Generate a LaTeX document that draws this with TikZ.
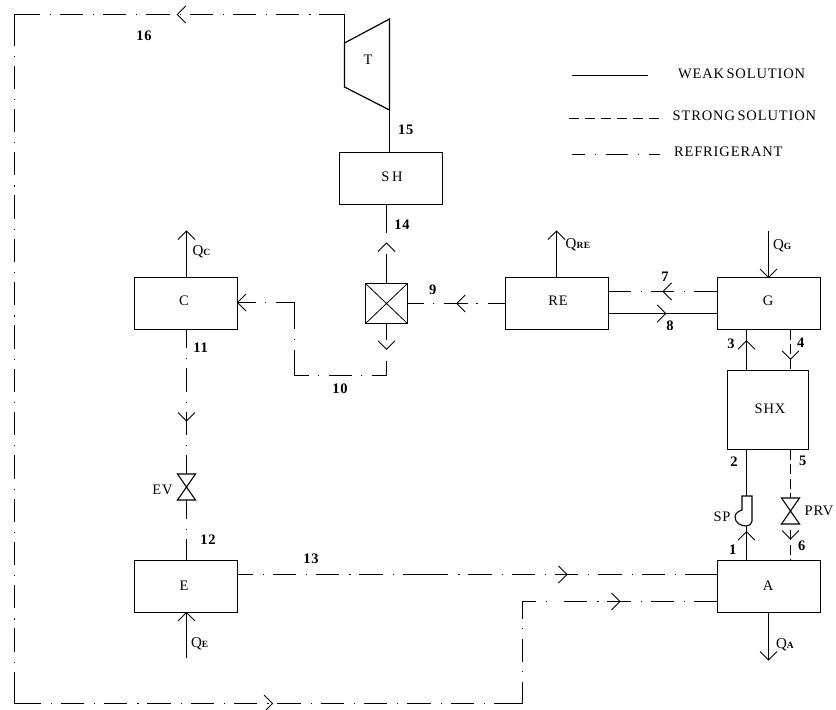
\documentclass[tikz,border=0pt]{standalone}
\usepackage{fontspec}
\setmainfont[LetterSpace=6,WordSpace=0.55]{Liberation Serif}
\newcommand{\Qsub}[1]{{\fontsize{15}{16}\selectfont Q}{\fontsize{9.5}{10}\selectfont\bfseries #1}}
\tikzset{
  every node/.style={font=\fontsize{14.5}{15}\selectfont,inner sep=0pt,outer sep=0pt},
  unitbox/.style={draw,line width=1.2pt,minimum width=103pt,minimum height=52pt,anchor=center},
  num/.style={font=\fontsize{14.5}{15}\selectfont\bfseries},
  weak/.style={line width=1.2pt},
  strong/.style={line width=1.2pt,dash pattern=on 10pt off 4.5pt},
  legstrong/.style={line width=1.2pt,dash pattern=on 10pt off 6pt},
  rf/.style={line width=1.2pt,dash pattern=on 23.3pt off 10pt on 1.2pt off 8.8pt,dash phase=#1},
  flowtip/.pic={\draw[line width=0.9pt] (-8.5,-8.5) -- (0,0) -- (-8.5,8.5);},
  valve/.pic={\draw[line width=1.1pt] (-9,-13) -- (9,-13) -- (-9,13) -- (9,13) -- cycle;}
}
\begin{document}
\begin{tikzpicture}[x=1pt,y=-1pt]
\useasboundingbox[fill=white] (0,0) rectangle (836,710);
% units
\node[unitbox] (C) at (186,303.5) {};
\node[unitbox] (E) at (186,586.5) {};
\node[unitbox] (RE) at (557,303.5) {};
\node[unitbox] (G) at (769,303.5) {};
\node[unitbox] (A) at (769,586.5) {};
\node[unitbox] (SH) at (391,178.5) {};
\node[unitbox,minimum width=81pt,minimum height=79pt] (SHX) at (768,410) {};
\node (lC) at (184,301) {C};
\node (lE) at (184,586) {E};
\node (lRE) at (558,301) {RE};
\node (lG) at (768,301) {G};
\node (lA) at (768,586) {A};
\node (lSH) at (392,177) {S H};
\node (lSHX) at (770,409) {SHX};
\node[draw,line width=1.4pt,minimum width=42pt,minimum height=40pt] (MX) at (386.5,303.5) {};
\draw[line width=0.8pt] (MX.north west) -- (MX.south east) (MX.north east) -- (MX.south west);
% turbine
\node (T) at (368,60) {T};
\coordinate (Ttl) at (344.5,43);
\coordinate (Tbl) at (344.5,87);
\coordinate (Ttr) at (389.5,19);
\coordinate (Tbr) at (389.5,110);
\draw[weak] (Ttl) -- (Ttr) -- (Tbr) -- (Tbl) -- cycle;
% coordinates
\coordinate (topL) at (14.5,14.5);
\coordinate (topR) at (344.5,14.5);
\coordinate (botL) at (14.5,703.5);
\coordinate (botR) at (522.5,703.5);
\coordinate (inA) at (522.5,601.5);
\coordinate (c10a) at (386.5,375.5);
\coordinate (c10b) at (294.5,375.5);
\coordinate (c10c) at (294.5,302.5);
\coordinate (EVt) at (186.5,474);
\coordinate (EVb) at (186.5,500);
\coordinate (PRVt) at (790.5,498);
\coordinate (PRVb) at (790.5,530);
\coordinate (SPt) at (746.5,496);
\coordinate (SPb) at (746.5,526);
% valves
\pic at (186.5,487) {valve};
\pic at (790.5,511) {valve};
\node (EV) at (162.5,490) {EV};
\node (PRV) at (819,511) {PRV};
\node (SP) at (722,517) {SP};
% pump
\draw[line width=1.1pt] (742,496) -- (752,496) -- (752,521) .. controls (752,524) and (749,526) .. (746.5,526)
  .. controls (741,526) and (735,523) .. (735,517) .. controls (735,513) and (739,511) .. (742,510) -- cycle;
% weak connectors
\draw[weak] (Tbr) -- (SH.north -| Tbr);
\draw[weak] (RE.east |- 0,313.5) -- (G.west |- 0,313.5);
\draw[weak] (A.north -| SPb) -- (SPb);
\draw[weak] (SHX.south -| SPt) -- (SPt);
\draw[weak] (SHX.north -| SPt) -- (G.south -| SPt);
% refrigerant: outer loop
\draw[rf=41.5] (topL) -- (topR);
\draw[weak] (341,14.5) -- (topR) -- (Tbl);
\draw[weak] (38,14.5) -- (topL) -- (14.5,45);
\draw[rf=35.6] (topL) -- (botL);
\draw[weak] (14.5,672) -- (botL) -- (40,703.5);
\draw[rf=40.3] (botL) -- (botR);
\draw[weak] (494,703.5) -- (botR) -- (522.5,682);
\draw[rf=2] (botR) -- (inA);
\draw[weak] (522.5,618) -- (inA) -- (535,601.5);
\draw[rf=10.3] (inA) -- (555,601.5);
\draw[rf=0] (564,601.5) -- (A.west |- inA);
% refrigerant: others
\draw[rf=8] (E.east |- 0,574.5) -- (425,574.5);
\draw[rf=0] (425,574.5) -- (A.west |- 0,574.5);
\draw[weak] (700,574.5) -- (A.west |- 0,574.5);
\draw[rf=1.2] (RE.east |- 0,291.5) -- (G.west |- 0,291.5);
\draw[rf=5.3] (RE.west |- MX.east) -- (MX.east);
\draw[weak] (MX.north) -- (386.5,254);
\draw[weak] (386.5,233) -- (SH.south -| MX.north);
\draw[weak] (MX.south) -- (386.5,340);
\draw[weak] (386.5,360.7) -- (c10a);
\draw[rf=9] (c10a) -- (c10b);
\draw[line width=1.2pt,dash pattern=on 25.7pt off 9.8pt on 1.2pt off 9.8pt on 30pt] (c10b) -- (c10c);
\draw[rf=4.7] (c10c) -- (C.east |- c10c);
\draw[rf=4.6] (C.south -| EVt) -- (EVt);
\draw[rf=4.3] (EVb) -- (E.north -| EVb);
% strong
\draw[strong] (G.south -| PRVt) -- (SHX.north -| PRVt);
\draw[strong] (SHX.south -| PRVt) -- (PRVt);
\draw[strong] (PRVb) -- (A.north -| PRVb);
% heat
\draw[weak] (C.north -| EVt) -- (186.5,231) coordinate (qc);
\draw[weak] (RE.north -| 556.5,0) -- (556.5,231) coordinate (qre);
\draw[weak] (768.5,231) coordinate (qg) -- (G.north -| 768.5,0);
\draw[weak] (186.5,658) coordinate (qe) -- (E.south -| 186.5,0);
\draw[weak] (A.south -| 768.5,0) -- (768.5,660) coordinate (qa);
% flow tips
\pic[rotate=90] at (qc) {flowtip};
\pic[rotate=90] at (qre) {flowtip};
\pic[rotate=-90] at (qg |- G.north) {flowtip};
\pic[rotate=90] at (186.5,612.5) {flowtip};
\pic[rotate=-90] at (qa) {flowtip};
\pic[rotate=180] at (177.3,14.5) {flowtip};
\pic at (272.6,703.5) {flowtip};
\pic at (567,574.5) {flowtip};
\pic at (620,601.5) {flowtip};
\pic[rotate=180] at (663,291.5) {flowtip};
\pic at (665.7,313.5) {flowtip};
\pic[rotate=180] at (456.7,303.5) {flowtip};
\pic[rotate=90] at (386.5,243) {flowtip};
\pic[rotate=-90] at (386.5,349.3) {flowtip};
\pic[rotate=180] at (237.5,302.5) {flowtip};
\pic[rotate=-90] at (186.5,421) {flowtip};
\pic[rotate=90] at (746.5,531.7) {flowtip};
\pic[rotate=90] at (746.5,340.7) {flowtip};
\pic[rotate=-90] at (790.5,359.3) {flowtip};
\pic[rotate=-90] at (790.5,539) {flowtip};
% Q labels
\node[anchor=west] (QC) at (192.5,252) {\Qsub{C}};
\node[anchor=west] (QRE) at (565.7,245) {\Qsub{RE}};
\node[anchor=west] (QG) at (773,246) {\Qsub{G}};
\node[anchor=west] (QE) at (191,644) {\Qsub{E}};
\node[anchor=west] (QA) at (776,645) {\Qsub{A}};
% numbers
\node[num] (n1) at (732.7,550) {1};
\node[num] (n2) at (734,461.7) {2};
\node[num] (n3) at (731,344) {3};
\node[num] (n4) at (800.7,343) {4};
\node[num] (n5) at (802.7,461) {5};
\node[num] (n6) at (801.7,546) {6};
\node[num] (n7) at (665,277) {7};
\node[num] (n8) at (670,326) {8};
\node[num] (n9) at (432.7,289.3) {9};
\node[num] (n10) at (340,389) {10};
\node[num] (n11) at (200.7,348) {11};
\node[num] (n12) at (208,540) {12};
\node[num] (n13) at (311,559) {13};
\node[num] (n14) at (402,225) {14};
\node[num] (n15) at (405.7,130) {15};
\node[num] (n16) at (144,36) {16};
% legend
\coordinate (lw1) at (572,75.5); \coordinate (lw2) at (648,75.5);
\coordinate (ls1) at (569,118.5); \coordinate (ls2) at (660,118.5);
\coordinate (lr1) at (572,154.5); \coordinate (lr2) at (660,154.5);
\draw[weak] (lw1) -- (lw2);
\draw[legstrong] (ls1) -- (ls2);
\draw[line width=1.2pt,dash pattern=on 13pt off 10pt on 1.2pt off 10pt on 22pt off 10pt on 1.2pt off 10pt on 11pt off 50pt] (lr1) -- (lr2);
\node[anchor=west] (LW) at (678,74) {WEAK SOLUTION};
\node[anchor=west] (LS) at (672.7,115.7) {STRONG SOLUTION};
\node[anchor=west] (LR) at (674,151.7) {REFRIGERANT};
\end{tikzpicture}
\end{document}
